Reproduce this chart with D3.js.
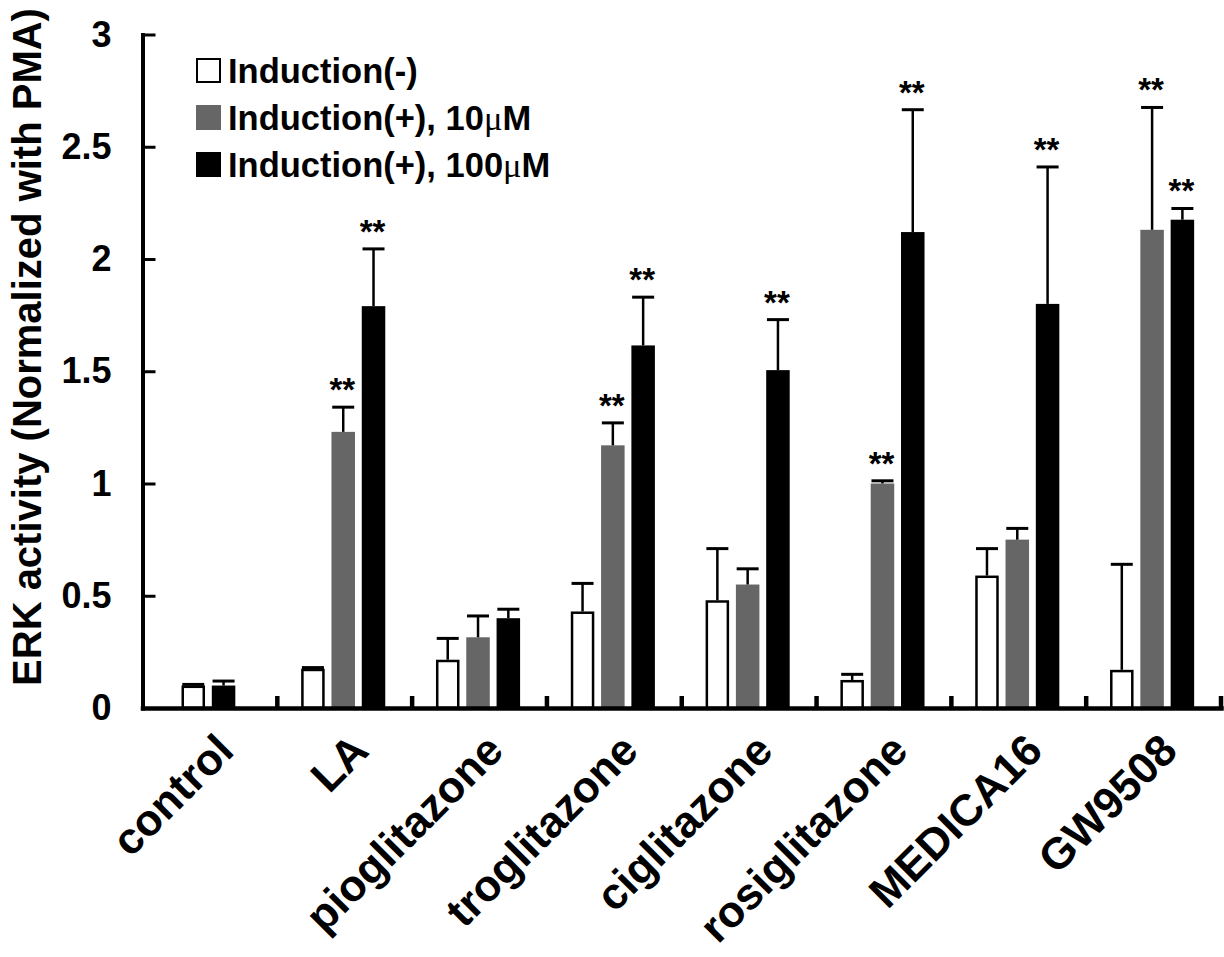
<!DOCTYPE html>
<html>
<head>
<meta charset="utf-8">
<script src="https://cdn.jsdelivr.net/npm/d3@7"></script>
<style>
  html, body { margin: 0; padding: 0; background: #fff; }
  svg { display: block; }
  text { font-family: "Liberation Sans", Arial, Helvetica, sans-serif; font-weight: bold; fill: #000; }
</style>
</head>
<body>
<svg id="chart" width="1224" height="957"></svg>
<script>
// ---------------- data ----------------
const categories = ["control", "LA", "pioglitazone", "troglitazone", "ciglitazone", "rosiglitazone", "MEDICA16", "GW9508"];
const seriesNames = ["Induction(-)", "Induction(+), 10\u03bcM", "Induction(+), 100\u03bcM"];
const valuesMinus = [0.10, 0.175, 0.215, 0.43, 0.48, 0.125, 0.59, 0.17];
const errMinus    = [0.005, 0.005, 0.095, 0.125, 0.23, 0.025, 0.12, 0.47];
const values10    = [null, 1.23, 0.315, 1.17, 0.55, 1.00, 0.75, 2.13];
const err10       = [null, 0.11, 0.095, 0.10, 0.07, 0.012, 0.05, 0.545];
const values100   = [0.10, 1.79, 0.40, 1.615, 1.505, 2.12, 1.80, 2.175];
const err100      = [0.02, 0.255, 0.04, 0.215, 0.225, 0.545, 0.61, 0.05];
const stars10     = [false, true, false, true, false, true, false, true];
const stars100    = [false, true, false, true, true, true, true, true];
const yTicks      = [0, 0.5, 1, 1.5, 2, 2.5, 3];
const yTickLabels = ["0", "0.5", "1", "1.5", "2", "2.5", "3"];
const yTitle = "ERK activity (Normalized with PMA)";

const seriesKeys = ["minus", "p10", "p100"];
const seriesFill = { minus: "#ffffff", p10: "#666666", p100: "#000000" };
const seriesVals = { minus: valuesMinus, p10: values10, p100: values100 };
const seriesErrs = { minus: errMinus, p10: err10, p100: err100 };
const seriesStars = { minus: categories.map(() => false), p10: stars10, p100: stars100 };

// ---------------- layout ----------------
const svg = d3.select("#chart");
const x0 = 142.5, x1end = 1221, yBase = 708, yTop = 34.5;

const x = d3.scaleBand().domain(categories).range([x0, x1end]).padding(0);
const y = d3.scaleLinear().domain([0, 3]).range([yBase, yTop]);

const barStep = 30.3, barPadIn = 0.224, innerShift = -1.5;
function innerScale(keys) {
  const w = barStep * (keys.length - barPadIn);
  return d3.scaleBand().domain(keys).range([-w / 2 + innerShift, w / 2 + innerShift]).paddingInner(barPadIn);
}

const bars = [];
categories.forEach((c, i) => {
  const keys = seriesKeys.filter(k => seriesVals[k][i] !== null);
  const xs = innerScale(keys);
  keys.forEach(k => {
    bars.push({
      cat: c, key: k, value: seriesVals[k][i], err: seriesErrs[k][i], star: seriesStars[k][i],
      x: x(c) + x.bandwidth() / 2 + xs(k), w: xs.bandwidth()
    });
  });
});

// ---------------- bars ----------------
svg.append("g").selectAll("rect").data(bars).join("rect")
  .attr("x", d => d.x + (d.key === "minus" ? 1.25 : 0))
  .attr("y", d => y(d.value) + (d.key === "minus" ? 1.25 : 0))
  .attr("width", d => d.w - (d.key === "minus" ? 2.5 : 0))
  .attr("height", d => yBase - y(d.value) - (d.key === "minus" ? 1.25 : 0))
  .attr("fill", d => seriesFill[d.key])
  .attr("stroke", d => d.key === "minus" ? "#000" : "none")
  .attr("stroke-width", 2.5);

// ---------------- error bars (upper only) ----------------
const eg = svg.append("g").attr("stroke", "#000");
eg.selectAll("line.v").data(bars).join("line").attr("class", "v")
  .attr("x1", d => d.x + d.w / 2).attr("x2", d => d.x + d.w / 2)
  .attr("y1", d => y(d.value)).attr("y2", d => y(d.value + d.err))
  .attr("stroke-width", 2.5);
eg.selectAll("line.c").data(bars).join("line").attr("class", "c")
  .attr("x1", d => d.x + d.w / 2 - 11).attr("x2", d => d.x + d.w / 2 + 11)
  .attr("y1", d => y(d.value + d.err)).attr("y2", d => y(d.value + d.err))
  .attr("stroke-width", 3);

// ---------------- significance stars ----------------
svg.append("g").selectAll("text").data(bars.filter(d => d.star)).join("text")
  .attr("x", d => d.x + d.w / 2 - 1)
  .attr("y", d => y(d.value + d.err) - 6)
  .attr("text-anchor", "middle")
  .style("font-size", "33px")
  .text("**");

// ---------------- axes ----------------
const yAxis = d3.axisLeft(y).tickValues(yTicks)
  .tickFormat((d, i) => yTickLabels[i]).tickSize(-13).tickSizeOuter(0).tickPadding(31);
const gy = svg.append("g").attr("transform", `translate(${x0},0)`).call(yAxis);
gy.attr("font-family", null).attr("font-size", null);
gy.select(".domain").attr("stroke-width", 4).attr("stroke-linecap", "square");
gy.selectAll(".tick line").attr("stroke-width", 3);
gy.selectAll(".tick text").style("font-size", "36px");

const xAxis = d3.axisBottom(x).tickSize(0).tickSizeOuter(0).tickFormat("");
const gx = svg.append("g").attr("transform", `translate(0,${yBase})`).call(xAxis);
gx.attr("font-family", null).attr("font-size", null);
gx.select(".domain").attr("stroke-width", 4.5).attr("stroke-linecap", "square");
gx.selectAll(".tick text").remove();
gx.selectAll(".tick").append("g")
  .attr("transform", "translate(26,45) rotate(-45)")
  .append("text")
  .attr("text-anchor", "end")
  .style("font-size", "44px")
  .text(d => d);

// category boundary ticks (pointing up)
svg.append("g").selectAll("line").data(categories).join("line")
  .attr("x1", d => x(d) + x.bandwidth()).attr("x2", d => x(d) + x.bandwidth())
  .attr("y1", yBase).attr("y2", yBase - 12)
  .attr("stroke", "#000").attr("stroke-width", 4.5);

// y title
svg.append("g").attr("transform", "translate(41,347) rotate(-90)")
  .append("text")
  .attr("text-anchor", "middle")
  .style("font-size", "40px")
  .text(yTitle);

// ---------------- legend ----------------
const lg = svg.append("g").attr("transform", "translate(196,58)");
const items = seriesKeys.map((k, i) => ({ key: k, name: seriesNames[i], i }));
const li = lg.selectAll("g").data(items).join("g").attr("transform", d => `translate(0,${d.i * 47})`);
li.append("rect")
  .attr("x", d => d.key === "minus" ? 1 : 0).attr("y", d => d.key === "minus" ? 1 : 0)
  .attr("width", d => d.key === "minus" ? 23 : 25).attr("height", d => d.key === "minus" ? 23 : 25)
  .attr("fill", d => seriesFill[d.key])
  .attr("stroke", d => d.key === "minus" ? "#000" : "none").attr("stroke-width", 2);
li.append("text").attr("x", 32).attr("y", 24.5).style("font-size", "34.5px")
  .each(function (d) {
    const t = d3.select(this);
    const parts = d.name.split("\u03bc");
    t.append("tspan").text(parts[0]);
    if (parts.length > 1) {
      t.append("tspan").style("font-family", "'Liberation Serif', 'Times New Roman', serif").style("font-weight", "normal").text("\u03bc");
      t.append("tspan").text(parts[1]);
    }
  });
</script>
</body>
</html>
